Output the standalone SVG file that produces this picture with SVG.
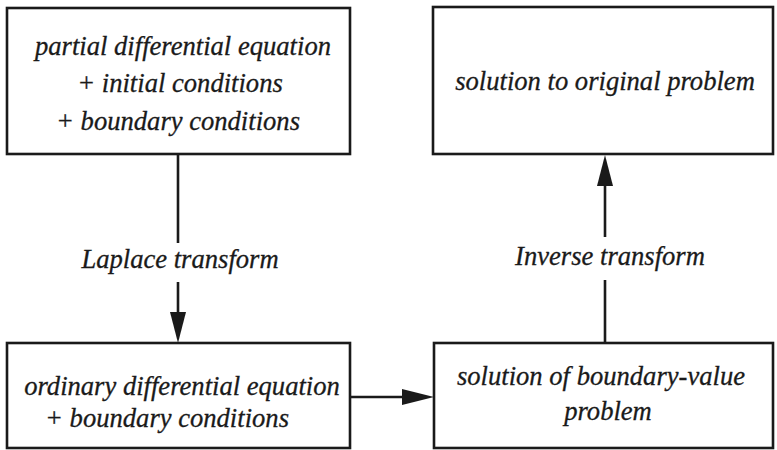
<svg xmlns="http://www.w3.org/2000/svg" width="777" height="450" viewBox="0 0 777 450">
<style>
.box{fill:#fff;stroke:#1a1a1a;stroke-width:2.6}
.t{font-family:"Liberation Serif","Times New Roman",serif;font-style:italic;font-size:26.6px;fill:#1a1a1a;stroke:#1a1a1a;stroke-width:0.3;text-anchor:middle}
.ln{stroke:#1a1a1a;stroke-width:2.6;fill:none}
.ah{fill:#1a1a1a}
</style>
<rect width="777" height="450" fill="#fff"/>
<g id="pde">
<rect class="box" x="7" y="8" width="343" height="146"/>
<text class="t" x="183" y="55">partial differential equation</text>
<text class="t" x="180" y="92">+ initial conditions</text>
<text class="t" x="178" y="130">+ boundary conditions</text>
</g>
<g id="solution">
<rect class="box" x="433" y="7" width="340" height="147"/>
<text class="t" x="605" y="90">solution to original problem</text>
</g>
<g id="ode">
<rect class="box" x="7" y="343" width="343" height="105"/>
<text class="t" x="182" y="395">ordinary differential equation</text>
<text class="t" x="167" y="427">+ boundary conditions</text>
</g>
<g id="bvp">
<rect class="box" x="434" y="343" width="339" height="105"/>
<text class="t" x="601" y="385">solution of boundary-value</text>
<text class="t" x="608" y="420">problem</text>
</g>
<g id="connectors">
<line class="ln" x1="178" y1="154" x2="178" y2="243"/>
<line class="ln" x1="178" y1="282" x2="178" y2="313"/>
<polygon class="ah" points="170,312 186,312 178,343"/>
<text class="t" x="180" y="268">Laplace transform</text>
<line class="ln" x1="605" y1="343" x2="605" y2="280"/>
<line class="ln" x1="605" y1="237" x2="605" y2="184"/>
<polygon class="ah" points="597,186 613,186 605,155"/>
<text class="t" x="610" y="265">Inverse transform</text>
<line class="ln" x1="350" y1="397" x2="404" y2="397"/>
<polygon class="ah" points="402,389 402,405 434,397"/>
</g>
</svg>
